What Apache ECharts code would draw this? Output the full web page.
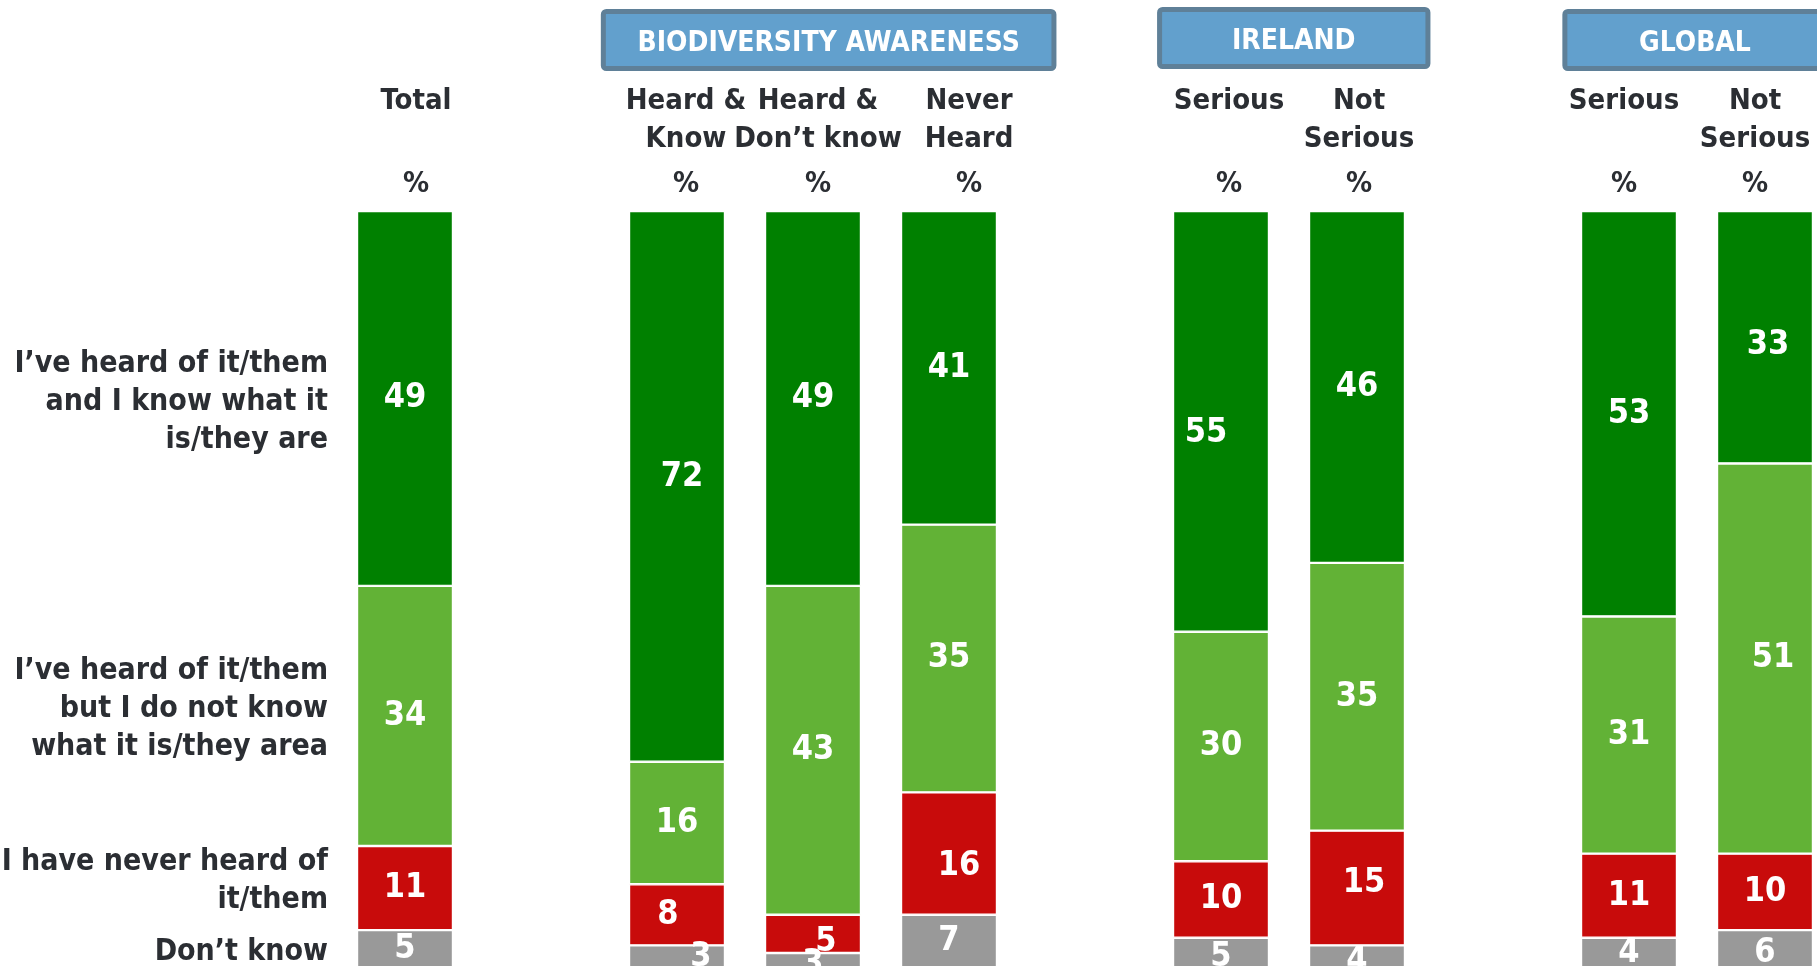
<!DOCTYPE html>
<html>
<head>
<meta charset="utf-8">
<title>Biodiversity awareness</title>
<script src="https://cdn.jsdelivr.net/npm/echarts@6/dist/echarts.min.js"></script>
<style>
  html, body { margin: 0; padding: 0; background: #ffffff; }
  #chart { width: 1817px; height: 966px; }
</style>
</head>
<body>
<div id="chart"></div>
<script>
// ---- Survey data -------------------------------------------------------
// One header per stacked bar
const columns = ['Total', 'Heard &\nKnow', 'Heard &\nDon’t know', 'Never\nHeard',
                 'Serious', 'Not\nSerious', 'Serious', 'Not\nSerious'];
// Answer options, stacked top to bottom in every bar
const answers = [
  'I’ve heard of it/them\nand I know what it\nis/they are',
  'I’ve heard of it/them\nbut I do not know\nwhat it is/they area',
  'I have never heard of\nit/them',
  'Don’t know'
];
// Percentages per column (same order as `columns`)
const heardAndKnow = [49, 72, 49, 41, 55, 46, 53, 33];
const heardNotKnow = [34, 16, 43, 35, 30, 35, 31, 51];
const neverHeard   = [11,  8,  5, 16, 10, 15, 11, 10];
const dontKnow     = [ 5,  3,  3,  7,  5,  4,  4,  6];
// Column groups with a title box above them (column indices)
const groupTitles = ['BIODIVERSITY AWARENESS', 'IRELAND', 'GLOBAL'];
const groupFirst  = [1, 4, 6];
const groupLast   = [3, 5, 7];

// ---- Layout & style ----------------------------------------------------
const FONT = '"DejaVu Sans Condensed", "DejaVu Sans", sans-serif';
const TEXT = '#2b2e33';
const COLORS = ['#008000', '#62b236', '#c80b0b', '#999999'];
const rows = [heardAndKnow, heardNotKnow, neverHeard, dontKnow];
// slot on the category axis for each column (empty slots separate the groups)
const slotOf = [0, 2, 3, 4, 6, 7, 9, 10];
const SLOTS = 11;
// small horizontal shifts of the column headers (px)
const headerShift = [11, 9, 5, 20, 8, 2, -5, -10];
// hand placement of a few value labels: "row-col" -> [dx, dy]
const labelNudge = {
  '0-1': [5, -9], '0-4': [-15, 12], '0-7': [3, 8],
  '1-7': [8, 0],
  '2-1': [-9, 0], '2-2': [13, 8], '2-3': [10, 13], '2-5': [7, -5],
  '3-1': [24, 0]
};
const answerNudge = [3.5, -6.5, -6.5, 2.5];
// title boxes: extent in slot units left/right of the first/last column, and vertical band
const boxPadL = [-0.56, -0.47, -0.49];
const boxPadR = [0.79, 0.54, 0.46];
const boxTop  = [9, 7, 9];
const boxBot  = [71, 69, 71];

// ---- Build options -----------------------------------------------------
const axisData = [];
for (let s = 0; s < SLOTS; s++) {
  const c = slotOf.indexOf(s);
  if (c < 0) { axisData.push({ value: '' }); continue; }
  const d = headerShift[c];
  axisData.push({
    value: columns[c],
    textStyle: { padding: d >= 0 ? [0, 0, 0, 2 * d] : [0, -2 * d, 0, 0] }
  });
}

const barSeries = rows.map((vals, r) => {
  const data = new Array(SLOTS).fill('-');
  vals.forEach((v, c) => {
    const n = labelNudge[r + '-' + c];
    data[slotOf[c]] = n ? { value: v, label: { offset: n } } : v;
  });
  return {
    name: answers[r],
    type: 'bar',
    stack: 'answers',
    barWidth: 96,
    data: data,
    itemStyle: { color: COLORS[r], borderColor: '#ffffff', borderWidth: 1.2 },
    label: {
      show: true, position: 'inside', color: '#ffffff',
      fontFamily: FONT, fontSize: 34, fontWeight: 'bold'
    },
    silent: true,
    animation: false
  };
});

// answer names sit left of the Total bar, level with its segments
let acc = 0;
const answerPoints = rows.map((vals, r) => {
  const mid = acc + vals[0] / 2;
  acc += vals[0];
  return { value: [0, mid], label: { offset: [0, answerNudge[r]] } };
});

const answerSeries = {
  type: 'scatter',
  data: answerPoints,
  symbolSize: 0,
  itemStyle: { color: TEXT, opacity: 1 },
  label: {
    show: true, position: 'left', distance: 77, align: 'right',
    formatter: p => answers[p.dataIndex],
    color: TEXT, fontFamily: FONT, fontSize: 30, fontWeight: 'bold', lineHeight: 38
  },
  silent: true,
  animation: false
};

const option = {
  backgroundColor: '#ffffff',
  animation: false,
  grid: { left: 337, top: 211, width: 1496, height: 765, outerBoundsMode: 'none', containLabel: false },
  xAxis: {
    type: 'category',
    position: 'top',
    data: axisData,
    axisLine: { show: false },
    axisTick: { show: false },
    splitLine: { show: false },
    axisLabel: {
      interval: 0,
      margin: 1,
      formatter: v => {
        if (!v) return '';
        const lines = v.split('\n');
        if (lines.length === 1) lines.push(' ');
        return lines.map(l => '{h|' + l + '}').join('\n') + '\n{p|%}';
      },
      rich: {
        h: { fontFamily: FONT, fontSize: 29, fontWeight: 'bold', color: TEXT, lineHeight: 38 },
        p: { fontFamily: FONT, fontSize: 29, fontWeight: 'bold', color: TEXT, lineHeight: 52 }
      }
    }
  },
  yAxis: { type: 'value', min: 0, max: 100, inverse: true, show: false },
  series: barSeries.concat([answerSeries])
};

const chart = echarts.init(document.getElementById('chart'), null, { renderer: 'canvas' });
chart.setOption(option);

// group title boxes, anchored to the category positions of their columns
const slotPx = s => chart.convertToPixel({ gridIndex: 0 }, [s, 0])[0];
const step = slotPx(1) - slotPx(0);
const graphics = [];
groupTitles.forEach((title, g) => {
  const x0 = slotPx(slotOf[groupFirst[g]]) + boxPadL[g] * step;
  const x1 = slotPx(slotOf[groupLast[g]]) + boxPadR[g] * step;
  const y0 = boxTop[g], y1 = boxBot[g];
  graphics.push({
    type: 'rect',
    shape: { x: x0 + 2.5, y: y0 + 2.5, width: x1 - x0 - 5, height: y1 - y0 - 5, r: 3 },
    style: { fill: '#62a0cd', stroke: '#5f8098', lineWidth: 5 },
    silent: true
  });
  graphics.push({
    type: 'text',
    x: (x0 + x1) / 2,
    y: (y0 + y1) / 2 + 4,
    style: {
      text: title, fill: '#ffffff', fontFamily: FONT, fontSize: 28, fontWeight: 'bold',
      align: 'center', verticalAlign: 'middle'
    },
    silent: true
  });
});
chart.setOption({ graphic: graphics });
</script>
</body>
</html>
